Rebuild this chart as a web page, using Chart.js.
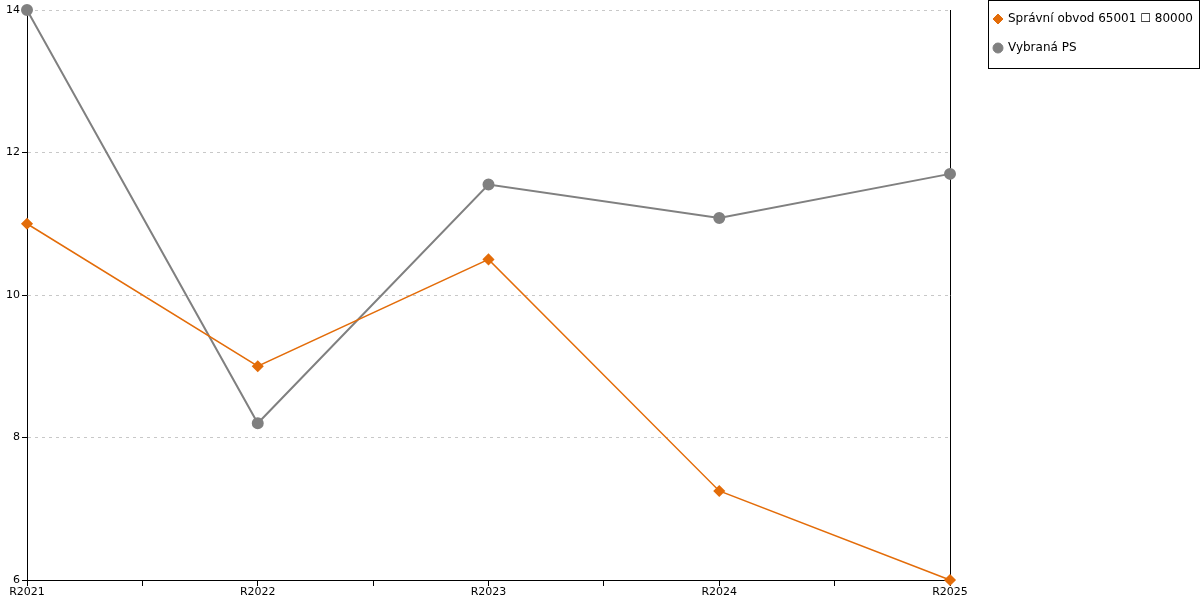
<!DOCTYPE html>
<html>
<head>
<meta charset="utf-8">
<script src="https://cdn.jsdelivr.net/npm/chart.js@4.4.1/dist/chart.umd.min.js"></script>
<style>
  body { margin: 0; background: #fff; }
  #wrap { width: 1200px; height: 600px; }
</style>
</head>
<body>
<div id="wrap"><canvas id="chart" width="1200" height="600"></canvas></div>
<script>
// data
const years = ['R2021', 'R2022', 'R2023', 'R2024', 'R2025']
const obvodValues = [11.0, 9.0, 10.5, 7.25, 6.0]
const psValues = [14.0, 8.2, 11.55, 11.08, 11.7]
const obvodLabel = 'Správní obvod 65001 \u2610 80000'
const psLabel = 'Vybraná PS'

const orange = '#E36C09'
const grey = '#808080'
const font = { family: 'DejaVu Sans', size: 11 }
const legendFont = '12px DejaVu Sans'

const toPoints = vals => vals.map((v, i) => ({ x: i, y: v }))

// legend box drawn by hand, framed like the original
const boxLegend = {
  id: 'boxLegend',
  afterDraw(chart) {
    const ctx = chart.ctx
    ctx.save()
    ctx.strokeStyle = '#000'
    ctx.lineWidth = 1
    ctx.strokeRect(988.5, 0.5, 211, 68)
    ctx.font = legendFont
    ctx.textBaseline = 'middle'
    chart.data.datasets.forEach((d, i) => {
      const y = 19 + i * 29
      ctx.fillStyle = d.pointBackgroundColor
      ctx.strokeStyle = d.pointBackgroundColor
      Chart.helpers.drawPoint(ctx, {
        pointStyle: d.pointStyle, radius: d.pointRadius, borderWidth: 1
      }, 998, y)
      ctx.fillStyle = '#000'
      ctx.fillText(d.label, 1008, y)
    })
    ctx.restore()
  }
}

new Chart(document.getElementById('chart'), {
  type: 'line',
  data: {
    datasets: [{
      label: obvodLabel,
      data: toPoints(obvodValues),
      borderColor: orange,
      backgroundColor: orange,
      pointBackgroundColor: orange,
      pointBorderColor: orange,
      pointStyle: 'rectRot',
      pointRadius: 5,
      borderWidth: 1.5,
      tension: 0,
      clip: false
    }, {
      label: psLabel,
      data: toPoints(psValues),
      borderColor: grey,
      backgroundColor: grey,
      pointBackgroundColor: grey,
      pointBorderColor: grey,
      pointStyle: 'circle',
      pointRadius: 5,
      borderWidth: 2,
      tension: 0,
      clip: false
    }]
  },
  options: {
    responsive: false,
    animation: false,
    devicePixelRatio: 1,
    layout: { padding: { top: 10, right: 250, left: 0, bottom: 0 } },
    plugins: {
      legend: { display: false },
      tooltip: { enabled: false }
    },
    scales: {
      x: {
        type: 'linear',
        min: 0,
        max: years.length - 1,
        afterBuildTicks: axis => {
          const t = []
          for (let v = 0; v <= years.length - 1; v += 0.5) t.push({ value: v })
          axis.ticks = t
        },
        afterFit: axis => { axis.height = 20 },
        ticks: {
          autoSkip: false,
          maxRotation: 0,
          color: '#000',
          font: font,
          padding: 0,
          callback: v => Number.isInteger(v) ? years[v] : ''
        },
        grid: { drawOnChartArea: false, color: '#000', tickLength: 6 },
        border: { color: '#000', width: 1 }
      },
      y: {
        min: 6,
        max: 14,
        afterFit: axis => { axis.width = 27 },
        ticks: { stepSize: 2, color: '#000', font: font, padding: 2 },
        grid: {
          color: '#c8c8c8',
          tickColor: '#000',
          tickLength: 5,
          tickBorderDash: [],
          drawTicks: true
        },
        border: { color: '#000', width: 1, dash: [3, 4] }
      },
      y2: {
        position: 'right',
        min: 6,
        max: 14,
        afterFit: axis => { axis.width = 0 },
        ticks: { display: false },
        grid: { drawOnChartArea: false, drawTicks: false },
        border: { color: '#000', width: 1 }
      }
    }
  },
  plugins: [boxLegend]
})
</script>
</body>
</html>
